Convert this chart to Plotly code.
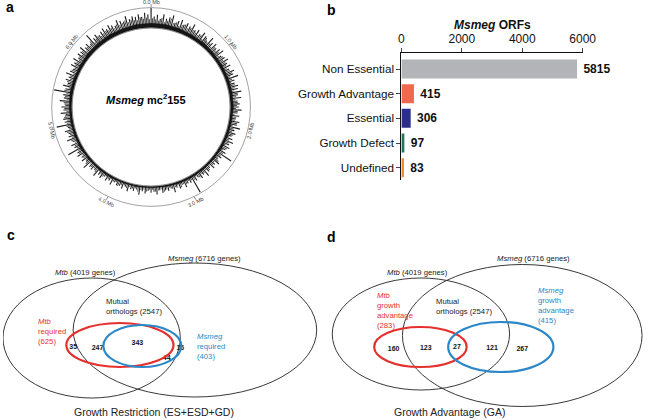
import math
import plotly.graph_objects as go

FONT = "Liberation Sans, Arial, sans-serif"
RED = "#e5312e"
BLUE = "#2b87c8"

# ---------------- Panel a: genome circle ----------------
genome_mb = 7.0
mb_ticks = [0, 1, 2, 3, 4, 5, 6]
mb_labels = ["0.0 Mb", "1.0 Mb", "2.0 Mb", "3.0 Mb", "4.0 Mb", "5.0 Mb", "6.0 Mb"]
# hand-estimated spike heights around the circle (2-degree bins, clockwise from top)
insertion_density = [
    21, 12, 14, 10, 15, 11, 13, 16, 9, 12, 14, 10, 13, 11, 15,
    10, 12, 9, 13, 11, 8, 14, 10, 12, 9, 11, 13, 8, 10, 12,
    9, 11, 8, 12, 10, 14, 9, 8, 11, 10, 13, 9, 12, 8, 10,
    9, 12, 8, 10, 7, 11, 9, 13, 8, 10, 7, 9, 11, 8, 10,
    7, 9, 18, 8, 6, 10, 7, 9, 6, 8, 11, 7, 9, 6, 8,
    20, 7, 6, 9, 5, 8, 6, 10, 5, 7, 6, 8, 5, 9, 6,
    7, 5, 8, 6, 10, 5, 7, 6, 9, 5, 8, 6, 7, 5, 9,
    6, 8, 5, 9, 7, 11, 6, 8, 7, 12, 6, 9, 7, 10, 8,
    17, 8, 10, 7, 12, 9, 8, 11, 7, 18, 9, 10, 8, 12, 9,
    11, 8, 13, 9, 10, 20, 9, 12, 8, 11, 9, 13, 10, 8, 12,
    10, 13, 9, 12, 11, 14, 10, 12, 9, 18, 11, 13, 10, 12, 14,
    11, 14, 12, 10, 15, 13, 11, 16, 12, 14, 13, 15, 12, 16, 14,
]
# in-between (odd-degree) spike heights, hand-estimated
insertion_density_mid = [
    10, 9, 8, 11, 7, 9, 12, 8, 10, 7, 9, 11, 8, 10, 9,
    8, 7, 9, 6, 10, 7, 8, 6, 9, 7, 8, 6, 9, 7, 8,
    7, 6, 8, 9, 6, 7, 5, 8, 7, 6, 9, 7, 6, 8, 7,
    6, 8, 5, 7, 6, 9, 5, 7, 6, 8, 5, 6, 7, 5, 8,
    5, 7, 6, 5, 8, 5, 6, 4, 7, 5, 6, 5, 7, 4, 6,
    5, 4, 6, 5, 7, 4, 5, 6, 4, 5, 7, 4, 5, 6, 4,
    4, 6, 4, 5, 7, 4, 5, 4, 6, 4, 5, 7, 4, 5, 4,
    5, 4, 6, 5, 4, 7, 5, 6, 4, 8, 5, 6, 5, 7, 6,
    6, 7, 5, 8, 6, 7, 9, 6, 8, 7, 6, 9, 7, 6, 8,
    7, 9, 6, 8, 7, 10, 6, 8, 9, 7, 8, 6, 9, 7, 8,
    8, 7, 9, 8, 10, 7, 9, 8, 11, 7, 9, 10, 8, 9, 10,
    9, 10, 8, 11, 9, 10, 12, 9, 11, 10, 9, 12, 10, 11, 9,
]
# hand-estimated thickness of the dense (solid) insertion band, every 10 degrees
band_thickness = [5, 5, 4.5, 4, 4, 3.5, 3.5, 3.5, 3.5, 3.5, 3, 3, 3, 2.5, 2.5, 2.5, 2.5, 2,
                  2, 2, 2, 2.5, 2.5, 2.5, 3, 3, 3, 3, 3.5, 3.5, 3.5, 4, 4, 4.5, 4.5, 5]

# ---------------- Panel b: ORF classes ----------------
orf_classes = ["Non Essential", "Growth Advantage", "Essential", "Growth Defect", "Undefined"]
orf_counts = [5815, 415, 306, 97, 83]
orf_colors = ["#b3b4b7", "#ef6a4c", "#2c2e8f", "#1f7a5a", "#f0892a"]
bar_ticks = [0, 2000, 4000, 6000]

# ---------------- Panel c / d: Venn counts ----------------
c_counts = [35, 247, 343, 44, 16]
d_counts = [160, 123, 27, 121, 267]
c_title = "Growth Restriction (ES+ESD+GD)"
d_title = "Growth Advantage (GA)"

# layout geometry (pixel coordinates on overlay axis)
C_CX, C_CY, R_IN, R_OUT = 152, 107, 81, 102
c_count_xy = [(72, 347), (97, 348), (138, 343), (168, 358), (182, 348)]
d_count_xy = [(401, 349), (434, 348), (466, 347), (502, 348), (533, 349)]

fig = go.Figure()

# ---- panel a traces ----
bstep = 360.0 / len(band_thickness)
band_theta = [i * bstep for i in range(len(band_thickness))] + [360.0]
band_r = band_thickness + [band_thickness[0]]
inner_theta = [360 - i * 2 for i in range(181)]
fig.add_trace(go.Scatterpolar(r=band_r + [0] * len(inner_theta), theta=band_theta + inner_theta,
                              mode="lines", fill="toself", fillcolor="#151515",
                              line=dict(color="#151515", width=0.5), subplot="polar",
                              showlegend=False, hoverinfo="skip"))
n = len(insertion_density)
step = 360.0 / n
thetas = [i * step for i in range(n)]
fig.add_trace(go.Barpolar(r=insertion_density, theta=thetas, width=[step * 0.36] * n,
                          marker=dict(color="#1e1e1e", line=dict(width=0)),
                          base=0, subplot="polar", showlegend=False, hoverinfo="skip"))
m = len(insertion_density_mid)
mstep = 360.0 / m
mthetas = [(i + 0.5) * mstep for i in range(m)]
fig.add_trace(go.Barpolar(r=insertion_density_mid, theta=mthetas, width=[mstep * 0.28] * m,
                          marker=dict(color="#333333", line=dict(width=0)),
                          base=0, subplot="polar", showlegend=False, hoverinfo="skip"))
ring_theta = [i for i in range(0, 361, 2)]
fig.add_trace(go.Scatterpolar(r=[0] * len(ring_theta), theta=ring_theta, mode="lines",
                              line=dict(color="#8a8a8a", width=1), subplot="polar",
                              showlegend=False, hoverinfo="skip"))

# ---- panel b trace ----
fig.add_trace(go.Bar(y=orf_classes, x=orf_counts, orientation="h",
                     marker=dict(color=orf_colors, line=dict(width=0)),
                     width=0.77, text=orf_counts, texttemplate=" <b>%{x}</b>",
                     textposition="outside", cliponaxis=False,
                     textfont=dict(family=FONT, size=12, color="#111"),
                     xaxis="x", yaxis="y", showlegend=False, hoverinfo="skip"))

# ---- panel c / d count texts ----
fig.add_trace(go.Scatter(x=[p[0] for p in c_count_xy] + [p[0] for p in d_count_xy],
                         y=[p[1] for p in c_count_xy] + [p[1] for p in d_count_xy],
                         text=["<b>%d</b>" % v for v in c_counts + d_counts],
                         mode="text", textfont=dict(family=FONT, size=7, color="#111"),
                         xaxis="x2", yaxis="y2", showlegend=False, hoverinfo="skip"))

shapes = []
def ell(cx, cy, rx, ry, color, w):
    shapes.append(dict(type="circle", xref="x2", yref="y2", x0=cx - rx, x1=cx + rx,
                       y0=cy - ry, y1=cy + ry, line=dict(color=color, width=w)))

# panel c
ell(91, 338, 91, 60, "#222", 0.9)
ell(197, 330, 125, 67, "#222", 0.9)
ell(120, 345, 55, 22, RED, 2.2)
ell(143, 346, 40, 21, BLUE, 2.2)
# panel d
ell(429, 334, 91, 56, "#222", 0.9)
ell(533, 335.5, 123, 71, "#222", 0.9)
ell(428.5, 347, 47.5, 20, RED, 2.2)
ell(511, 347, 54, 25, BLUE, 2.2)

ann = []
def txt(x, y, s, size=7.7, color="#222", xanchor="center", yanchor="middle", angle=0, align="center"):
    ann.append(dict(x=x, y=y, xref="x2", yref="y2", text=s, showarrow=False,
                    font=dict(family=FONT, size=size, color=color), xanchor=xanchor,
                    yanchor=yanchor, textangle=angle, align=align, borderpad=0))

# panel letters
txt(7, 7, "<b>a</b>", size=14, color="#000")
txt(337, 10, "<b>b</b>", size=14, color="#000")
txt(8, 235, "<b>c</b>", size=14, color="#000")
txt(337, 237, "<b>d</b>", size=14, color="#000")

# panel a labels
txt(C_CX - 5, 99, "<b><i>Msmeg</i> mc<sup>2</sup>155</b>", size=11, color="#000")
for k, lab in zip(mb_ticks, mb_labels):
    th = k / genome_mb * 360.0
    rr = 105
    x = C_CX + rr * math.sin(math.radians(th))
    y = C_CY - rr * math.cos(math.radians(th))
    if th <= 90:
        a = th
    elif th < 270:
        a = th - 180
    else:
        a = th - 360
    txt(x, y, lab, size=5.5, color="#444", angle=a)

# panel b title
txt(502, 25, "<b><i>Msmeg</i> ORFs</b>", size=12, color="#111")

# panel c labels
txt(207, 258, "<i>Msmeg</i> (6716 genes)")
txt(85, 272, "<i>Mtb</i> (4019 genes)")
txt(105, 306.5, "Mutual<br>orthologs (2547)", xanchor="left", align="left")
txt(35, 331, "<i>Mtb</i><br>required<br>(625)", color=RED, xanchor="left", align="left")
txt(198, 346.5, "<i>Msmeg</i><br>required<br>(403)", color=BLUE, xanchor="left", align="left")
txt(155, 412, c_title, size=10.5)

# panel d labels
txt(545, 258, "<i>Msmeg</i> (6716 genes)")
txt(425, 272, "<i>Mtb</i> (4019 genes)")
txt(443, 306.5, "Mutual<br>orthologs (2547)", xanchor="left", align="left")
txt(383, 310, "<i>Mtb</i><br>growth<br>advantage<br>(283)", color=RED, xanchor="left", align="left")
txt(548, 305, "<i>Msmeg</i><br>growth<br>advantage<br>(415)", color=BLUE, xanchor="left", align="left")
txt(458, 412, d_title, size=10.5)

W, H = 658, 420
fig.update_layout(
    width=W, height=H, margin=dict(l=0, r=0, t=0, b=0),
    paper_bgcolor="white", plot_bgcolor="rgba(0,0,0,0)",
    font=dict(family=FONT, color="#111"),
    shapes=shapes, annotations=ann, hovermode=False,
    polar=dict(
        domain=dict(x=[(C_CX - R_OUT) / W, (C_CX + R_OUT) / W],
                    y=[1 - (C_CY + R_OUT) / H, 1 - (C_CY - R_OUT) / H]),
        hole=R_IN / R_OUT, bgcolor="white",
        radialaxis=dict(range=[0, R_OUT - R_IN], visible=False),
        angularaxis=dict(direction="clockwise", rotation=90, showgrid=False,
                         showline=True, linecolor="#8a8a8a", linewidth=0.8,
                         ticks="outside", ticklen=3, tickcolor="#8a8a8a",
                         tickvals=[k / genome_mb * 360.0 for k in mb_ticks],
                         showticklabels=False),
    ),
    xaxis=dict(domain=[409 / W, 595 / W], range=[0, 6000], side="top",
               tickvals=bar_ticks, ticks="outside", ticklen=4, showline=True,
               linecolor="#111", linewidth=1, showgrid=False, zeroline=False,
               tickfont=dict(family=FONT, size=12, color="#111"), anchor="y"),
    yaxis=dict(domain=[1 - 180 / H, 1 - 53 / H], type="category",
               range=[4.5, -0.65], ticks="outside", ticklen=4, showline=True,
               linecolor="#111", linewidth=1, showgrid=False, zeroline=False,
               tickfont=dict(family=FONT, size=11.7, color="#111"), anchor="x"),
    xaxis2=dict(domain=[0, 1], range=[0, W], visible=False, anchor="y2", fixedrange=True),
    yaxis2=dict(domain=[0, 1], range=[H, 0], visible=False, anchor="x2", fixedrange=True),
)

fig.write_html("out.html", config={"displayModeBar": False},
               post_script="document.body.style.margin='0';document.body.style.overflow='hidden';")
